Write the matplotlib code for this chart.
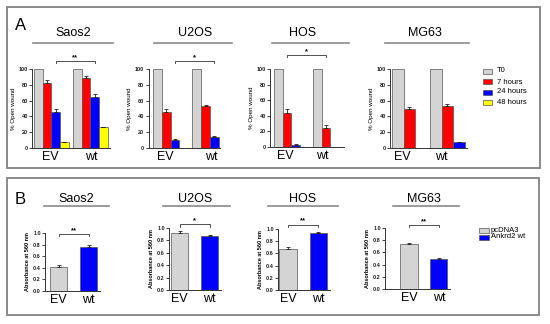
import numpy as np
import matplotlib
matplotlib.use("Agg")
import matplotlib.pyplot as plt
from matplotlib.patches import Rectangle

plt.rcParams['font.family'] = ['Liberation Sans', 'DejaVu Sans']

W, H = 550, 324

# ---- datos panel A (% open wound) ----
cells = ["Saos2", "U2OS", "HOS", "MG63"]
groups = ["EV", "wt"]
times = ["T0", "7 hours", "24 hours", "48 hours"]
time_colors = ["#d4d4d4", "#ff0000", "#0000ff", "#ffff00"]

t0 = {"Saos2": [100, 100], "U2OS": [100, 100], "HOS": [100, 100], "MG63": [100, 100]}
h7 = {"Saos2": [82, 89], "U2OS": [46, 53], "HOS": [44, 25], "MG63": [50, 53]}
h24 = {"Saos2": [46, 64], "U2OS": [10, 14], "HOS": [2, np.nan], "MG63": [np.nan, 7]}
h48 = {"Saos2": [7, 26], "U2OS": [np.nan, np.nan], "HOS": [np.nan, np.nan], "MG63": [np.nan, np.nan]}
h7_err = {"Saos2": [4, 2], "U2OS": [3, 2], "HOS": [5, 3], "MG63": [2, 3]}
h24_err = {"Saos2": [3, 4], "U2OS": [2, 1], "HOS": [2, 0], "MG63": [0, 1]}
h48_err = {"Saos2": [1, 1], "U2OS": [0, 0], "HOS": [0, 0], "MG63": [0, 0]}
sig_a = {"Saos2": "**", "U2OS": "*", "HOS": "*", "MG63": ""}

# ---- datos panel B (absorbance at 560 nm) ----
b_labels = ["pcDNA3", "Ankrd2 wt"]
b_colors = ["#d4d4d4", "#0000ff"]
absorb = {"Saos2": [0.42, 0.76], "U2OS": [0.92, 0.87], "HOS": [0.67, 0.93], "MG63": [0.74, 0.50]}
absorb_err = {"Saos2": [0.03, 0.04], "U2OS": [0.03, 0.02], "HOS": [0.04, 0.02], "MG63": [0.01, 0.01]}
sig_b = {"Saos2": "**", "U2OS": "*", "HOS": "**", "MG63": "**"}


def px_rect(left, top, right, bottom):
    return [left / W, 1 - bottom / H, (right - left) / W, (bottom - top) / H]


def fx(x):
    return x / W


def fy(y):
    return 1 - y / H


fig = plt.figure(figsize=(5.5, 3.24), dpi=100)
fig.patch.set_facecolor("white")

# marcos de los paneles
for (l, t, r, b) in [(7, 7, 540, 168), (7, 178, 539, 315)]:
    fig.patches.append(Rectangle((fx(l), fy(b)), fx(r) - fx(l), fy(t) - fy(b),
                                 transform=fig.transFigure, fill=False,
                                 edgecolor="#8a8a8a", linewidth=1.4))

fig.text(fx(21), fy(25), "A", fontsize=12, ha="center", va="center")
fig.text(fx(20), fy(199), "B", fontsize=12, ha="center", va="center")


def style_axis(ax):
    for s in ["top", "right"]:
        ax.spines[s].set_visible(False)
    for s in ["left", "bottom"]:
        ax.spines[s].set_linewidth(0.7)
        ax.spines[s].set_color("#333333")
    ax.tick_params(axis="y", direction="out", length=2, width=0.6, pad=1,
                   labelsize=4, colors="#222222")
    ax.tick_params(axis="x", length=0, labelsize=9, pad=2)
    for lab in ax.get_yticklabels():
        lab.set_fontweight("bold")


def title_line(cx, cy, x0, x1, ly, name):
    fig.text(fx(cx), fy(cy), name, fontsize=9, ha="center", va="center")
    fig.add_artist(plt.Line2D([fx(x0), fx(x1)], [fy(ly), fy(ly)],
                              transform=fig.transFigure, color="#8a8a8a", linewidth=1.2))


def bracket(ax, x0, x1, y, dy, txt):
    ax.plot([x0, x0, x1, x1], [y - dy, y, y, y - dy], color="#333333",
            linewidth=0.6, clip_on=False)
    ax.text((x0 + x1) / 2, y, txt, ha="center", va="bottom", fontsize=5.5,
            fontweight="bold")


# ---- panel A ----
# axis rect in pixels, xlim, bar positions, label positions, bracket
a_layout = {
    "Saos2": dict(rect=(32, 69, 109.5, 148), xlim=(-0.73, 8.2),
                  pos=[[0, 1, 2, 3], [4.5, 5.5, 6.5, 7.5]], lab=[1.4, 6.1], br=(2, 6.5, 110)),
    "U2OS": dict(rect=(148.5, 69, 220, 148), xlim=(-1.02, 7.15),
                 pos=[[0, 1, 2, 3], [4.5, 5.5, 6.5, 7.5]], lab=[0.9, 6.15], br=(2, 6.5, 110)),
    "HOS": dict(rect=(270, 69, 344, 147), xlim=(-0.96, 7.57),
                pos=[[0, 1, 2, 3], [4.5, 5.5, 6.5, 7.5]], lab=[0.8, 5.1], br=(1, 5.5, 118)),
    "MG63": dict(rect=(390, 69, 467, 148), xlim=(-0.67, 6.0),
                 pos=[[0, 1, 2, 3], [3.3, 4.3, 5.3, 6.3]], lab=[0.4, 3.8], br=None),
}
a_titles = {"Saos2": (73, 110 - 77, 33, 113), "U2OS": (195, 33, 154, 232),
            "HOS": (303, 33, 272, 349), "MG63": (425, 33, 385, 469)}

for c in cells:
    lay = a_layout[c]
    ax = fig.add_axes(px_rect(*lay["rect"]))
    series = [t0[c], h7[c], h24[c], h48[c]]
    errs = [[0, 0], h7_err[c], h24_err[c], h48_err[c]]
    for g in range(2):
        for k in range(4):
            v = series[k][g]
            if np.isnan(v):
                continue
            x = lay["pos"][g][k]
            ax.bar(x, v, width=1.0, color=time_colors[k], edgecolor="#555555",
                   linewidth=0.5, zorder=2)
            if errs[k][g] > 0:
                ax.errorbar(x, v, yerr=[[0], [errs[k][g]]], fmt="none", ecolor="#222222",
                            elinewidth=0.6, capsize=1.5, capthick=0.6, zorder=3, clip_on=False)
    ax.set_xlim(*lay["xlim"])
    ax.set_ylim(0, 100)
    ax.set_yticks([0, 20, 40, 60, 80, 100])
    ax.set_xticks(lay["lab"])
    ax.set_xticklabels(groups)
    ax.set_ylabel("% Open wound", fontsize=4.5, labelpad=2)
    style_axis(ax)
    if lay["br"] is not None:
        b0, b1, by = lay["br"]
        bracket(ax, b0, b1, by, 2, sig_a[c])
    cx, cy, x0, x1 = a_titles[c]
    title_line(cx, 33, x0, x1, 43, c)

# leyenda A
for k, (name, col) in enumerate(zip(times, time_colors)):
    yc = [71, 82, 92, 102][k]
    fig.patches.append(Rectangle((fx(483), fy(yc + 2.5)), fx(9), 5 / H,
                                 transform=fig.transFigure, facecolor=col,
                                 edgecolor="#555555", linewidth=0.5))
    fig.text(fx(497), fy(yc), name, fontsize=5.5, va="center", ha="left")

# ---- panel B ----
b_layout = {
    "Saos2": dict(rect=(45, 233, 100, 291), xlim=(-0.45, 1.38), br=0.98),
    "U2OS": dict(rect=(169, 228, 221, 290), xlim=(-0.35, 1.38), br=1.06),
    "HOS": dict(rect=(278, 229, 330, 290), xlim=(-0.33, 1.38), br=1.07),
    "MG63": dict(rect=(385, 228, 450, 289), xlim=(-0.8, 1.37), br=1.05),
}
b_titles = {"Saos2": (76, 44, 109), "U2OS": (195, 163, 230),
            "HOS": (303, 268, 338), "MG63": (424, 393, 459)}

for c in cells:
    lay = b_layout[c]
    ax = fig.add_axes(px_rect(*lay["rect"]))
    xs = np.arange(2)
    ax.bar(xs, absorb[c], width=0.57, color=b_colors, edgecolor="#555555",
           linewidth=0.5, zorder=2)
    ax.errorbar(xs, absorb[c], yerr=[[0, 0], absorb_err[c]], fmt="none",
                ecolor="#222222", elinewidth=0.6, capsize=1.5, capthick=0.6, zorder=3)
    ax.set_xlim(*lay["xlim"])
    ax.set_ylim(0, 1.0)
    ax.set_yticks([0.0, 0.2, 0.4, 0.6, 0.8, 1.0])
    ax.set_yticklabels(["0.0", "0.2", "0.4", "0.6", "0.8", "1.0"])
    ax.set_xticks(xs)
    ax.set_xticklabels(groups)
    ax.set_ylabel("Absorbance at 560 nm", fontsize=4, labelpad=2, fontweight="bold")
    style_axis(ax)
    bracket(ax, 0, 1, lay["br"], 0.04, sig_b[c])
    cx, x0, x1 = b_titles[c]
    title_line(cx, 199, x0, x1, 206, c)

# leyenda B
for k, (name, col) in enumerate(zip(b_labels, b_colors)):
    yc = [230, 237][k]
    fig.patches.append(Rectangle((fx(479), fy(yc + 2.5)), fx(10), 5 / H,
                                 transform=fig.transFigure, facecolor=col,
                                 edgecolor="#555555", linewidth=0.5))
    fig.text(fx(491), fy(yc), name, fontsize=5.5, va="center", ha="left")

fig.savefig("out.png", dpi=100)
